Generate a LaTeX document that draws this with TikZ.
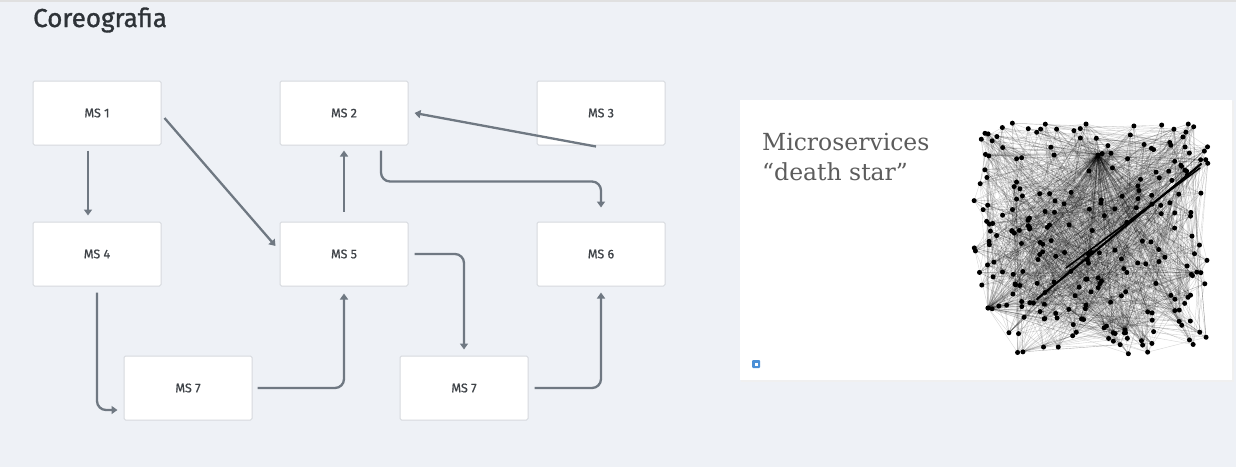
\documentclass[tikz,border=0pt]{standalone}
\usepackage{fontspec}
\setmainfont{Fira Sans}
\newfontfamily\titlefont[FakeBold=1.2]{Fira Sans}
\newfontfamily\labelfont[FakeBold=0.8]{Fira Sans}
\newfontfamily\slab{DejaVu Serif}
\usetikzlibrary{arrows.meta,calc}
\definecolor{bg}{HTML}{EEF1F6}
\definecolor{boxline}{HTML}{D6D9DE}
\definecolor{arrowc}{HTML}{6F7882}
\definecolor{titlec}{HTML}{2E3338}
\definecolor{labelc}{HTML}{3E4247}
\definecolor{slabc}{HTML}{5C5C5C}
\definecolor{iconc}{HTML}{4A8FD6}
\begin{document}
\begin{tikzpicture}[x=1pt,y=-1pt,
  msbox/.style={draw=boxline,line width=1pt,fill=white,rounded corners=1.5pt,
    minimum width=128pt,minimum height=64pt,inner sep=0pt,
    font=\labelfont\fontsize{12.5}{14}\selectfont,text=labelc},
  arr/.style={draw=arrowc,line width=2.3pt,rounded corners=9pt,
    -{Triangle[length=6pt,width=8pt]}},
  edgeline/.style={draw=black,line width=0.4pt,opacity=0.17},
  slabtext/.style={anchor=base west,inner sep=0pt,text=slabc,font=\slab\fontsize{23.5}{30}\selectfont},
  dot/.style={fill=black}]
\fill[bg] (0,0) rectangle (1236,467);
\fill[black!12] (0,0) rectangle (1236,2);
\useasboundingbox (0,0) rectangle (1236,467);

\node[anchor=base west,inner sep=0pt,font=\titlefont\fontsize{26}{28}\selectfont,text=titlec] (title) at (33,27) {Coreograf{}ia};

\node[msbox] (ms1) at (97,113) {MS 1};
\node[msbox] (ms2) at (344,113) {MS 2};
\node[msbox] (ms3) at (601,113) {MS 3};
\node[msbox] (ms4) at (97,254) {MS 4};
\node[msbox] (ms5) at (344,254) {MS 5};
\node[msbox] (ms6) at (601,254) {MS 6};
\node[msbox] (ms7a) at (188,388) {MS 7};
\node[msbox] (ms7b) at (464,388) {MS 7};

% connectors
\draw[arr] ([xshift=-9pt,yshift=-5pt]ms1.south) -- ([xshift=-9pt,yshift=6pt]ms4.north);
\draw[arr] ([xshift=3pt,yshift=-5pt]ms1.east) -- ([xshift=-4pt,yshift=8pt]ms5.west);
\draw[arr] ([yshift=10pt]ms5.north) -- ([yshift=-5pt]ms2.south);
\draw[arr] ([xshift=-5pt,yshift=-1pt]ms3.south) -- ([xshift=6pt]ms2.east);
\draw[arr] ([xshift=37pt,yshift=-5pt]ms2.south) |- ([yshift=40pt]ms6.north) -- ([yshift=14pt]ms6.north);
\draw[arr] ([xshift=6pt]ms5.east) -| ([yshift=6pt]ms7b.north);
\draw[arr] ([yshift=-6pt]ms4.south) |- ([xshift=-6pt,yshift=-22pt]ms7a.west);
\draw[arr] ([xshift=5pt]ms7a.east) -| ([yshift=-7pt]ms5.south);
\draw[arr] ([xshift=6pt]ms7b.east) -| ([yshift=-6pt]ms6.south);

% right panel
\fill[black!6] (741,101) rectangle (1234,382);
\node[draw=none,fill=white,anchor=north west,minimum width=492pt,minimum height=280pt,inner sep=0pt] (panel) at (740,100) {};
\node[slabtext] (dstitle1) at (762,150) {Microservices};
\node[slabtext] (dstitle2) at (762,180) {“death star”};
\node[fill=iconc,rounded corners=1pt,minimum size=8pt,inner sep=0pt] (icon) at (756,364) {};
\fill[white] (754.5,362.5) rectangle (757.5,365.5);

% death star graph
\pgfmathsetseed{4242}
\foreach \i in {1,...,250}{
  \pgfmathsetmacro\px{974+234*rnd}
  \pgfmathsetmacro\py{123+232*rnd}
  \coordinate (p\i) at (\px,\py);
}
\coordinate (hub) at (1098,155);
\coordinate (hubb) at (988,308);
\coordinate (hubc) at (1125,330);
\foreach \k in {1,...,1300}{
  \pgfmathtruncatemacro\a{random(1,250)}
  \pgfmathtruncatemacro\b{random(1,250)}
  \draw[edgeline] (p\a) -- (p\b);
}
\foreach \i in {1,2,...,250}{\draw[edgeline] (hub) -- (p\i);}
\foreach \i in {2,5,...,250}{\draw[edgeline] (hubb) -- (p\i);}
\foreach \i in {3,9,...,250}{\draw[edgeline] (hubc) -- (p\i);}
\draw[line width=2.2pt,line cap=round] (1037,299) -- (1201,164);
\draw[line width=1.6pt,line cap=round] (1066,268) -- (1200,168);
\foreach \i in {1,...,250}{\fill[dot] (p\i) circle (2.5pt);}
\fill[dot] (hub) circle (2.6pt);
\fill[dot] (hubb) circle (2.6pt);
\fill[dot] (hubc) circle (2.6pt);
\end{tikzpicture}
\end{document}
